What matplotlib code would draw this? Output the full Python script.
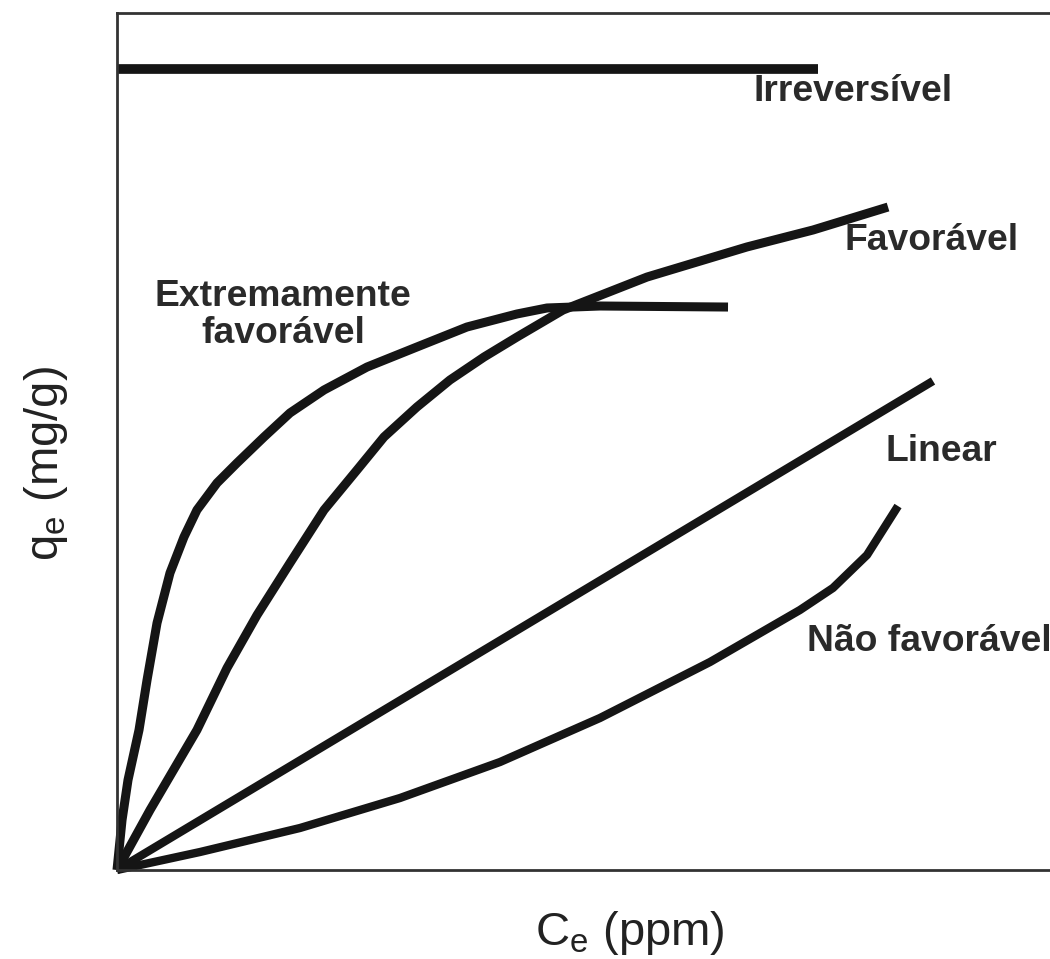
import matplotlib
matplotlib.use("Agg")
import matplotlib.pyplot as plt

plt.rcParams['font.family'] = ['Liberation Sans', 'DejaVu Sans']
plt.rcParams['mathtext.default'] = 'regular'

# Data (arbitrary units: Ce 0-100, qe 0-100)
irrev_x = [0.0, 75.1]
irrev_y = [93.5, 93.5]

extrem_x = [0.0, 0.54, 1.18, 2.36, 3.22, 4.29, 5.68, 7.18, 8.57, 10.72, 12.86,
            15.76, 18.54, 22.19, 26.8, 32.15, 37.51, 42.87, 46.09, 51.77, 65.49]
extrem_y = [0.0, 5.83, 10.5, 16.34, 22.17, 28.82, 34.66, 38.86, 42.01, 45.16, 47.49,
            50.53, 53.33, 56.01, 58.69, 61.03, 63.36, 64.88, 65.58, 65.81, 65.69]

fav_x = [0.0, 3.54, 8.57, 11.79, 15.01, 18.54, 22.19, 25.72, 28.62, 32.15, 35.69,
         39.34, 42.87, 47.8, 56.81, 67.52, 74.6, 82.64]
fav_y = [0.0, 7.0, 16.34, 23.57, 29.75, 35.82, 42.01, 46.67, 50.53, 54.03, 57.18,
         59.86, 62.19, 65.34, 69.19, 72.70, 74.68, 77.36]

lin_x = [0.0, 87.46]
lin_y = [0.0, 57.06]

naofav_x = [0.0, 8.9, 19.61, 30.33, 41.05, 51.77, 63.56, 73.2, 76.74, 80.39, 83.71]
naofav_y = [0.0, 2.1, 4.9, 8.4, 12.6, 17.74, 24.27, 30.34, 32.91, 36.76, 42.47]

labels = ["Irreversível", "Favorável", "Extremamente\nfavorável", "Linear", "Não favorável"]

fig = plt.figure(figsize=(10.5, 9.59), dpi=100)
ax = fig.add_axes([117/1050, 1-870/959, (1050-117)/1050, (870-13)/959])
ax.set_xlim(0, 100)
ax.set_ylim(0, 100)
ax.set_xticks([])
ax.set_yticks([])
for s in ['left', 'top', 'bottom']:
    ax.spines[s].set_linewidth(2.0)
    ax.spines[s].set_color('#333333')
ax.spines['right'].set_visible(False)

lc = '#151515'
ax.plot(irrev_x, irrev_y, color=lc, lw=7, solid_capstyle='butt', clip_on=False)
ax.plot(extrem_x, extrem_y, color=lc, lw=6.5, solid_capstyle='butt', solid_joinstyle='round', clip_on=False)
ax.plot(fav_x, fav_y, color=lc, lw=6.5, solid_capstyle='butt', solid_joinstyle='round', clip_on=False)
ax.plot(lin_x, lin_y, color=lc, lw=6, solid_capstyle='butt', clip_on=False)
ax.plot(naofav_x, naofav_y, color=lc, lw=6, solid_capstyle='butt', solid_joinstyle='round', clip_on=False)

tc = '#2a2a2a'
fs = 26.8
ax.text(68.2, 90.8, labels[0], ha='left', va='center', fontsize=fs, fontweight='bold', color=tc)
ax.text(78.0, 73.5, labels[1], ha='left', va='center', fontsize=fs, fontweight='bold', color=tc)
ax.text(17.8, 64.8, labels[2], ha='center', va='center', multialignment='center',
        linespacing=1.08, fontsize=fs, fontweight='bold', color=tc)
ax.text(82.4, 48.8, labels[3], ha='left', va='center', fontsize=fs, fontweight='bold', color=tc)
ax.text(74.0, 26.7, labels[4], ha='left', va='center', fontsize=fs, fontweight='bold', color=tc, clip_on=False)

fig.text(630/1050, 1-945/959, 'C$_{e}$ (ppm)', ha='center', va='baseline', fontsize=34, color='#222222')
fig.text(46/1050, 1-463/959, 'q$_{e}$ (mg/g)', ha='center', va='center', rotation=90, fontsize=34, color='#222222')

fig.savefig('out.png', dpi=100)
